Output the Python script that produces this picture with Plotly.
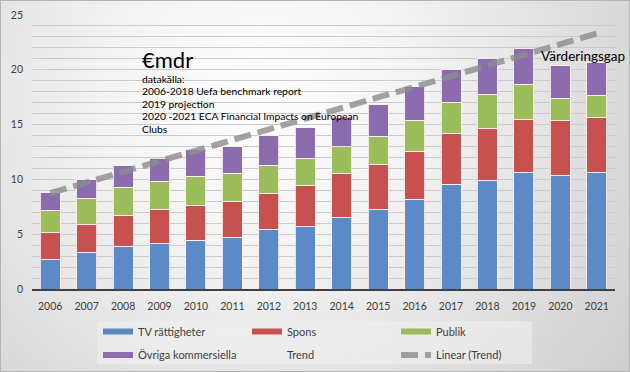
import base64
import plotly.graph_objects as go

# ---------------- data ----------------
years = ["2006", "2007", "2008", "2009", "2010", "2011", "2012", "2013",
         "2014", "2015", "2016", "2017", "2018", "2019", "2020", "2021"]
tv_rights = [2.71, 3.35, 3.90, 4.17, 4.44, 4.72, 5.45, 5.72,
             6.54, 7.27, 8.18, 9.55, 9.92, 10.65, 10.37, 10.65]
spons = [2.46, 2.55, 2.82, 3.10, 3.20, 3.28, 3.28, 3.74,
         4.02, 4.11, 4.38, 4.65, 4.74, 4.83, 5.02, 5.02]
publik = [2.01, 2.37, 2.56, 2.56, 2.64, 2.56, 2.56, 2.46,
          2.44, 2.55, 2.83, 2.83, 3.10, 3.20, 2.01, 2.00]
ovriga = [1.61, 1.68, 1.97, 2.09, 2.42, 2.42, 2.70, 2.80,
          2.67, 2.89, 3.07, 2.98, 3.25, 3.25, 2.97, 2.98]
trend_years = ["2006", "2021"]
trend_values = [8.75, 23.3]
y_ticks = [0, 5, 10, 15, 20, 25]

series_names = ["TV rättigheter", "Spons", "Publik", "Övriga kommersiella"]
series_colors = ["#5b8ac6", "#c6514f", "#9bbd5a", "#8a6caf"]

W, H = 630, 372
ML, MR, MT, MB = 32, 15, 15, 83
PW, PH = W - ML - MR, H - MT - MB
FONT = "Lato"


def px2x(px):
    return (px - ML) / PW


def py2y(py):
    return (H - MB - py) / PH


fig = go.Figure()

for name, vals, col in zip(series_names, [tv_rights, spons, publik, ovriga], series_colors):
    fig.add_trace(go.Bar(
        x=years, y=vals, name=name, showlegend=False,
        marker=dict(color=col, line=dict(color="rgba(255,240,240,0.85)", width=1)),
    ))

# legend entries (flat swatches like the original)
for i, (name, col) in enumerate(zip(series_names, series_colors)):
    fig.add_trace(go.Scatter(
        x=[None], y=[None], mode="lines", name=name,
        line=dict(color=col, width=6),
        legend="legend" if i < 3 else "legend2",
    ))

fig.add_trace(go.Scatter(
    x=[None], y=[None], mode="lines", name="Trend",
    line=dict(color="rgba(0,0,0,0)", width=1), legend="legend2",
))

fig.add_trace(go.Scatter(
    x=trend_years, y=trend_values, mode="lines", name="Linear (Trend)",
    line=dict(color="rgba(140,140,140,0.8)", width=6, dash="17px,7px"),
    legend="legend2",
))

# gradient background as svg image
svg = f'''<svg xmlns="http://www.w3.org/2000/svg" width="{W}" height="{H}">
<defs><radialGradient id="g" gradientUnits="userSpaceOnUse" cx="260" cy="100" r="540">
<stop offset="0" stop-color="#fefefe"/><stop offset="0.3" stop-color="#f3f3f3"/><stop offset="1" stop-color="#c4c4c4"/></radialGradient></defs>
<rect x="0" y="0" width="{W}" height="{H}" fill="url(#g)"/>
<rect x="0.5" y="0.5" width="{W-1}" height="{H-1}" fill="none" stroke="#b4b4b4" stroke-width="1"/>
</svg>'''
src = "data:image/svg+xml;base64," + base64.b64encode(svg.encode()).decode()

fig.add_layout_image(dict(
    source=src, xref="paper", yref="paper",
    x=px2x(0), y=py2y(0), sizex=W / PW, sizey=H / PH,
    xanchor="left", yanchor="top", sizing="stretch", layer="below",
))

# legend box
fig.add_shape(type="rect", xref="paper", yref="paper",
              x0=px2x(97), x1=px2x(532), y0=py2y(321), y1=py2y(364),
              fillcolor="rgba(240,240,240,0.55)", line=dict(width=0), layer="below")

txt_col = "#000000"
ann = [
    ("€mdr", 140, 59, 22),
    ("datakälla:", 140, 78.5, 10.3),
    ("2006-2018 Uefa benchmark report", 140, 91, 10.3),
    ("2019 projection", 140, 103.7, 10.3),
    ("2020 -2021 ECA Financial Impacts on European", 140, 116.4, 10.3),
    ("Clubs", 140, 129.2, 10.3),
    ("Värderingsgap", 539, 56, 13.5),
]
for t, x, y, s in ann:
    fig.add_annotation(text=t, x=px2x(x), y=py2y(y), xref="paper", yref="paper",
                       xanchor="left", yanchor="middle", showarrow=False,
                       font=dict(family=FONT, size=s, color=txt_col))

legend_common = dict(
    orientation="h", xref="paper", yref="paper",
    xanchor="left", yanchor="middle", traceorder="normal",
    entrywidth=104, entrywidthmode="pixels",
    bgcolor="rgba(0,0,0,0)", borderwidth=0,
    font=dict(family=FONT, size=11, color="#404040"),
    itemclick=False, itemdoubleclick=False,
)

fig.update_layout(
    width=W, height=H,
    margin=dict(l=ML, r=MR, t=MT, b=MB, autoexpand=False),
    barmode="stack", bargap=0.45,
    paper_bgcolor="#d8d8d8", plot_bgcolor="rgba(0,0,0,0)",
    font=dict(family=FONT, size=11, color="#404040"),
    legend=dict(x=px2x(98), y=py2y(331.5), **legend_common),
    legend2=dict(x=px2x(98), y=py2y(355), **legend_common),
    xaxis=dict(
        type="category", range=[-0.5, 15.5], automargin=False,
        showline=True, linecolor="#404040", linewidth=2,
        showgrid=False, ticks="", ticklabelstandoff=6,
        tickfont=dict(family=FONT, size=10.5, color="#404040"),
    ),
    yaxis=dict(
        range=[0, 25], tickvals=y_ticks, showline=False, zeroline=False,
        automargin=False,
        showgrid=True, gridcolor="#cbcbcb", gridwidth=1,
        minor=dict(dtick=1, showgrid=True, gridcolor="#cbcbcb", gridwidth=1),
        ticks="", ticklabelstandoff=8,
        tickfont=dict(family=FONT, size=10.5, color="#404040"),
    ),
)

fig.write_html(
    "out.html",
    config={"displayModeBar": False},
    post_script="document.body.style.margin='0';document.body.style.overflow='hidden';",
)
